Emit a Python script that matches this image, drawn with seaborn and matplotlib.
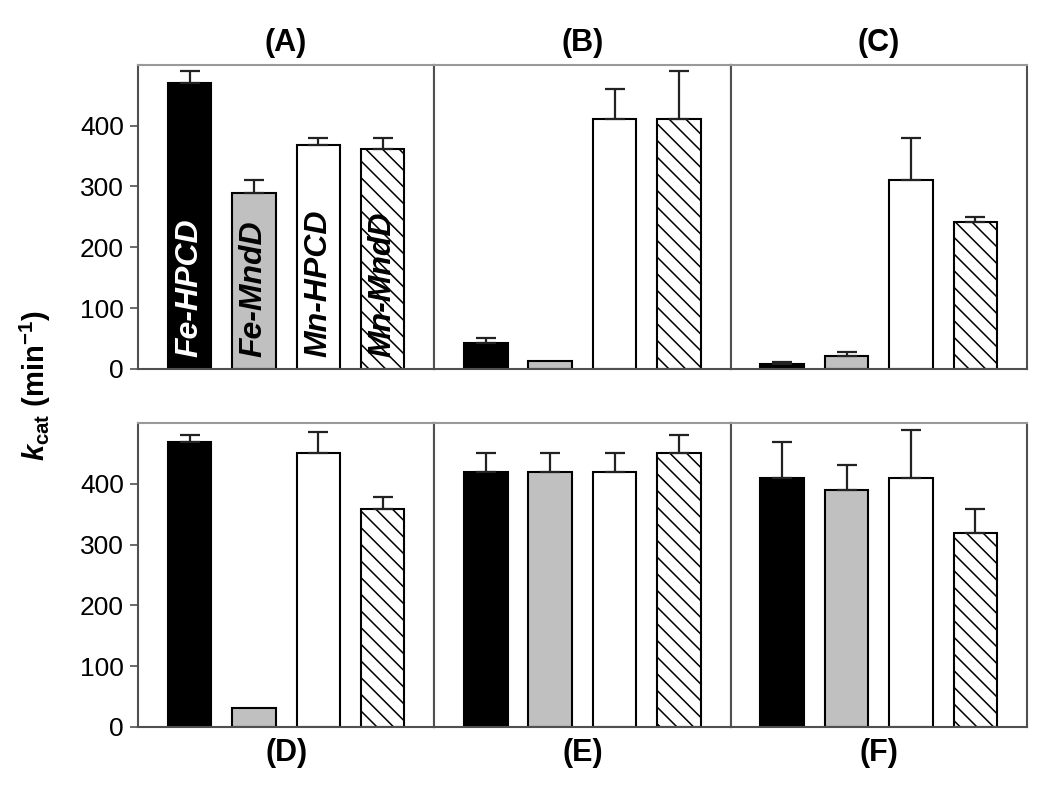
import pandas as pd
import seaborn as sns
import matplotlib.pyplot as plt

# Enzymes (bar order) and panel names
enzymes = ['Fe-HPCD', 'Fe-MndD', 'Mn-HPCD', 'Mn-MndD']
panels = ['(A)', '(B)', '(C)', '(D)', '(E)', '(F)']

# kcat values (min^-1), one list per panel
kcat_A = [470, 290, 368, 361]
kcat_B = [42, 13, 411, 411]
kcat_C = [8, 22, 310, 241]
kcat_D = [469, 32, 450, 359]
kcat_E = [420, 420, 420, 450]
kcat_F = [409, 390, 409, 319]

# upward error bars (0 = none visible)
err_A = [20, 20, 11, 18]
err_B = [8, 0, 49, 79]
err_C = [3, 5, 70, 9]
err_D = [11, 0, 35, 20]
err_E = [30, 30, 30, 30]
err_F = [60, 41, 80, 40]

kcat = [kcat_A, kcat_B, kcat_C, kcat_D, kcat_E, kcat_F]
errs = [err_A, err_B, err_C, err_D, err_E, err_F]

rows = []
for p, vals, ers in zip(panels, kcat, errs):
    for e, v, s in zip(enzymes, vals, ers):
        rows.append({'panel': p, 'enzyme': e, 'kcat': v, 'err': s})
data = pd.DataFrame(rows)

sns.set_style('white')
plt.rcParams['font.family'] = ['Liberation Sans', 'DejaVu Sans']
plt.rcParams['mathtext.fontset'] = 'custom'
plt.rcParams['mathtext.rm'] = 'Liberation Sans:bold'
plt.rcParams['mathtext.bf'] = 'Liberation Sans:bold'
plt.rcParams['mathtext.it'] = 'Liberation Sans:italic:bold'
plt.rcParams['hatch.linewidth'] = 1.1
plt.rcParams['text.color'] = 'black'

colors = {'Fe-HPCD': 'black', 'Fe-MndD': '#c0c0c0', 'Mn-HPCD': 'white', 'Mn-MndD': 'white'}
spine_col = '#505050'

fig, axes = plt.subplots(2, 3, figsize=(10.5, 8.01), dpi=100, sharey='row')
plt.subplots_adjust(left=0.1314, right=0.978, top=0.919, bottom=0.0924,
                    wspace=0, hspace=0.178)

for k, (ax, p) in enumerate(zip(axes.flat, panels)):
    sub = data[data['panel'] == p]
    sns.barplot(data=sub, x='enzyme', y='kcat', hue='enzyme', order=enzymes,
                hue_order=enzymes, palette=colors, edgecolor='black',
                linewidth=1.5, width=0.675, legend=False, errorbar=None, ax=ax)
    bars = sorted(ax.patches, key=lambda b: b.get_x())
    bars[3].set_hatch('\\\\')

    xs = [b.get_x() + b.get_width() / 2 for b in bars]
    for x, v, s in zip(xs, sub['kcat'], sub['err']):
        if s > 0:
            ax.errorbar(x, v, yerr=[[0], [s]], fmt='none', ecolor='#222222',
                        elinewidth=1.6, capsize=7, capthick=1.6, zorder=3)

    ax.set_xlim(-0.8, 3.8)
    ax.set_ylim(0, 500)
    ax.set_xticks([])
    ax.set_yticks([0, 100, 200, 300, 400])
    ax.set_xlabel('')
    ax.set_ylabel('')

    for name, sp in ax.spines.items():
        sp.set_visible(True)
        sp.set_color(spine_col)
        sp.set_linewidth(1.5)
    ax.spines['top'].set_color('#999999')

    if k % 3 == 0:
        ax.tick_params(axis='y', left=True, length=6, width=1.2, color=spine_col,
                       labelsize=19, labelcolor='black', pad=4)
    else:
        ax.tick_params(axis='y', left=False)

    if k < 3:
        ax.set_title(p, fontsize=22, fontweight='bold', pad=10, color='black')
    else:
        ax.set_xlabel(p, fontsize=22, fontweight='bold', labelpad=8, color='black')

# enzyme names inside the bars of panel A
axA = axes[0, 0]
barsA = sorted(axA.patches, key=lambda b: b.get_x())
txt_col = {'Fe-HPCD': 'white', 'Fe-MndD': 'black', 'Mn-HPCD': 'black', 'Mn-MndD': 'black'}
for b, e in zip(barsA, enzymes):
    axA.text(b.get_x() + b.get_width() / 2, 20, e, rotation=90, ha='center',
             va='bottom', color=txt_col[e], fontsize=23, style='italic',
             fontweight='bold', zorder=4)

fig.text(0.034, 0.518, r'$k_{\mathrm{cat}}$ (min$^{\mathrm{-1}}$)', rotation=90,
         ha='center', va='center', fontsize=21, fontweight='bold')

plt.savefig('out.png', dpi=100)
plt.close()
